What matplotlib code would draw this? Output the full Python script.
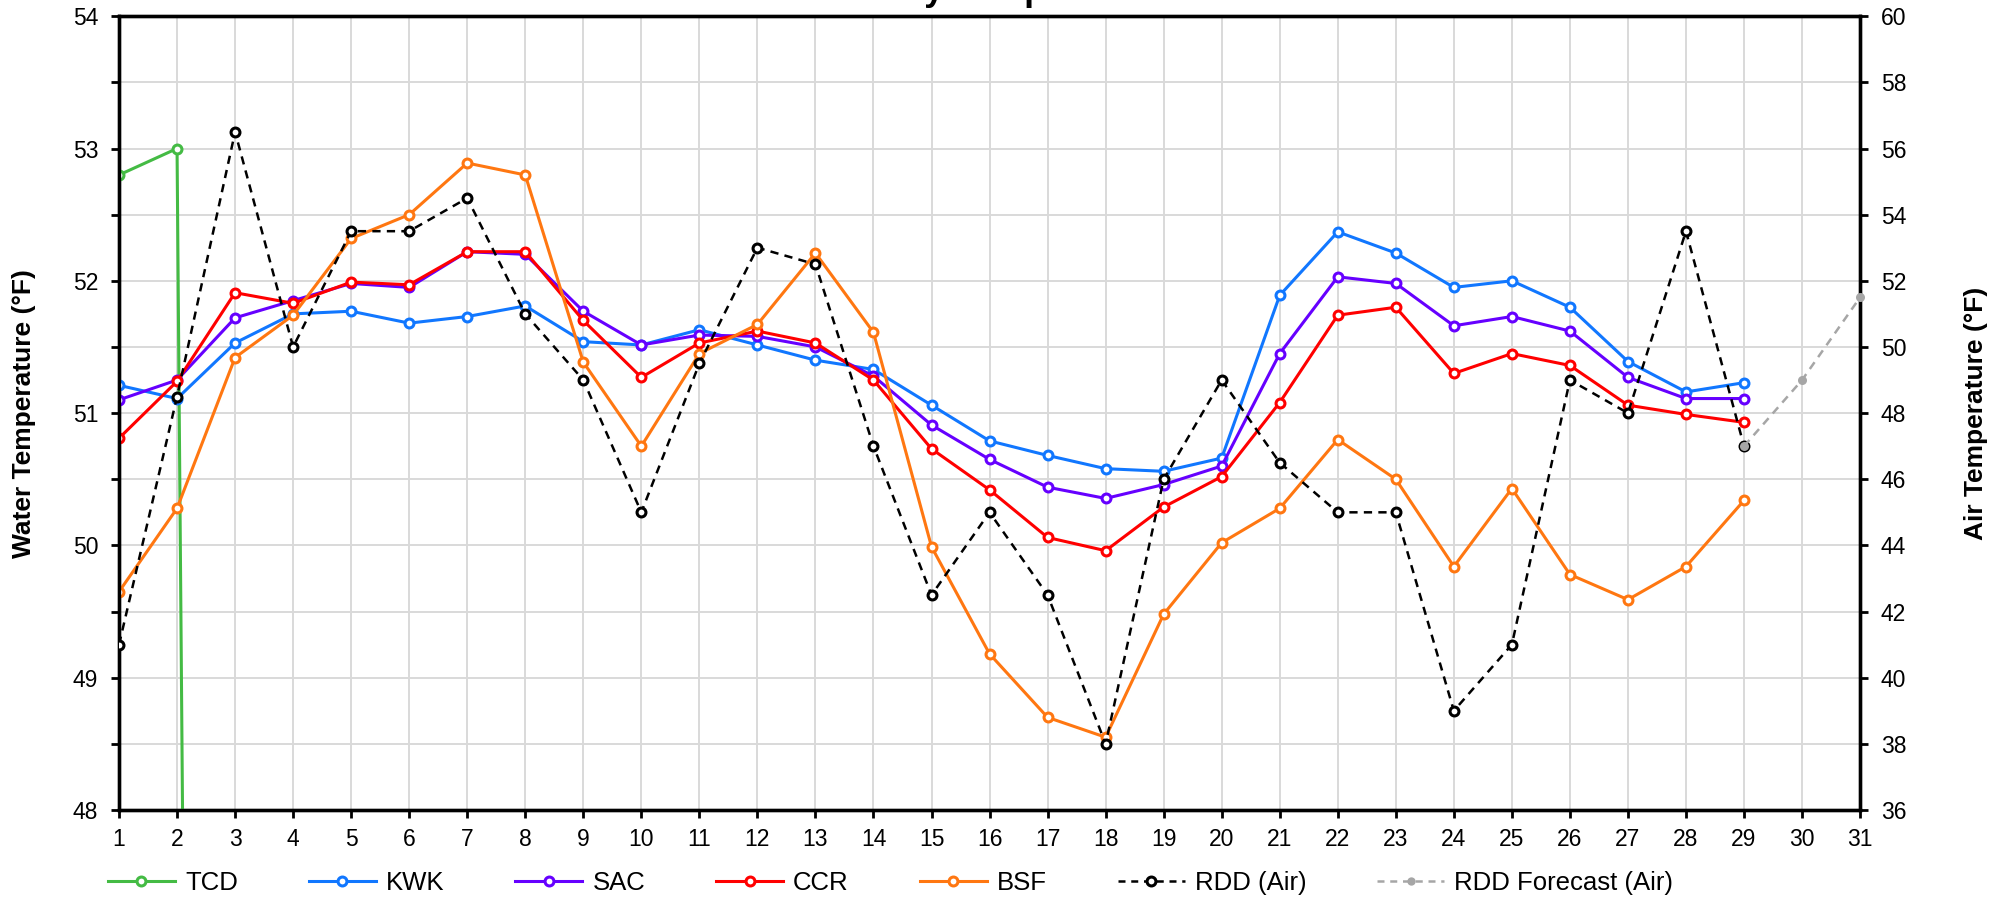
import matplotlib
matplotlib.use("Agg")
import matplotlib.pyplot as plt
from matplotlib.lines import Line2D
from matplotlib.ticker import MultipleLocator

plt.rcParams['font.family'] = ['Liberation Sans', 'DejaVu Sans']

# ---------------- data ----------------
days = list(range(1, 30))
tcd_days = [1, 2, 3]
tcd = [52.8, 53.0, 0.0]
kwk = [51.21, 51.11, 51.53, 51.75, 51.77, 51.68, 51.73, 51.81, 51.54, 51.515,
       51.63, 51.515, 51.40, 51.33, 51.06, 50.79, 50.68, 50.58, 50.56, 50.66,
       51.89, 52.37, 52.21, 51.95, 52.00, 51.80, 51.39, 51.16, 51.23]
sac = [51.10, 51.25, 51.72, 51.85, 51.98, 51.95, 52.22, 52.20, 51.77, 51.515,
       51.59, 51.58, 51.50, 51.28, 50.91, 50.65, 50.44, 50.355, 50.46, 50.60,
       51.45, 52.03, 51.98, 51.66, 51.73, 51.62, 51.27, 51.11, 51.11]
ccr = [50.81, 51.24, 51.91, 51.83, 51.99, 51.97, 52.22, 52.22, 51.70, 51.27,
       51.53, 51.62, 51.53, 51.25, 50.73, 50.42, 50.06, 49.96, 50.29, 50.52,
       51.08, 51.74, 51.80, 51.30, 51.45, 51.36, 51.06, 50.99, 50.93]
bsf = [49.65, 50.28, 51.42, 51.74, 52.32, 52.50, 52.89, 52.80, 51.385, 50.75,
       51.45, 51.67, 52.21, 51.61, 49.99, 49.18, 48.70, 48.55, 49.48, 50.02,
       50.28, 50.80, 50.50, 49.84, 50.43, 49.78, 49.59, 49.84, 50.34]
rdd_air = [41.0, 48.5, 56.5, 50.0, 53.5, 53.5, 54.5, 51.0, 49.0, 45.0,
           49.5, 53.0, 52.5, 47.0, 42.5, 45.0, 42.5, 38.0, 46.0, 49.0,
           46.5, 45.0, 45.0, 39.0, 41.0, 49.0, 48.0, 53.5, 47.0]
fc_days = [29, 30, 31]
fc_air = [47.0, 49.0, 51.5]
x_ticks = list(range(1, 32))
left_ticks = [48, 49, 50, 51, 52, 53, 54]
right_ticks = [36, 38, 40, 42, 44, 46, 48, 50, 52, 54, 56, 58, 60]

title = "Daily Temperatures"
labels = ["TCD", "KWK", "SAC", "CCR", "BSF", "RDD (Air)", "RDD Forecast (Air)"]
colors = ["#44BB44", "#1177FF", "#6600FF", "#FF0000", "#FF7711", "#000000", "#A6A6A6"]

# ---------------- figure ----------------
fig = plt.figure(figsize=(20.07, 9.0), dpi=100)
ax = fig.add_axes([0.0593, 0.10, 0.8675, 0.882])
ax2 = ax.twinx()

FS = 16.5
LW = 2.2
MS = 6.4
MEW = 2.2
DLW = 1.8

ax.set_xlim(1, 31)
ax.set_ylim(48, 54)
ax2.set_ylim(36, 60)

ax.set_xticks(x_ticks)
ax.set_yticks(left_ticks)
ax.yaxis.set_minor_locator(MultipleLocator(0.5))
ax2.set_yticks(right_ticks)

ax.grid(True, which='both', color='#D9D9D9', linewidth=1.4)
ax.set_axisbelow(True)

for a in (ax, ax2):
    for s in a.spines.values():
        s.set_linewidth(2.4)
        s.set_color('black')
ax.tick_params(axis='x', which='both', direction='out', length=6, width=2,
               labelsize=FS, pad=7)
ax.tick_params(axis='y', which='both', direction='out', length=6, width=2,
               labelsize=FS, pad=9)
ax2.tick_params(axis='y', direction='out', length=6, width=2, labelsize=FS, pad=9)

def mline(a, x, y, c, z, **kw):
    a.plot(x, y, color=c, lw=LW, marker='o', ms=MS, mew=MEW, mfc='white',
           mec=c, zorder=z, **kw)

mline(ax, tcd_days, tcd, colors[0], 3)
mline(ax, days, kwk, colors[1], 4)
mline(ax, days, sac, colors[2], 5)
mline(ax, days, ccr, colors[3], 6)
mline(ax, days, bsf, colors[4], 7)

ax2.plot(days, rdd_air, color='black', lw=DLW, dashes=(3.3, 2.5), marker='o',
         ms=MS, mew=MEW, mfc='white', mec='black', zorder=3)
ax2.plot(fc_days, fc_air, color=colors[6], lw=DLW, dashes=(3.3, 2.5), marker='o',
         ms=6.5, mew=0, mfc=colors[6], zorder=4, clip_on=False)

ax.set_ylabel("Water Temperature (°F)", fontsize=19, fontweight='bold', va='center')
ax2.set_ylabel("Air Temperature (°F)", fontsize=19, fontweight='bold',
               rotation=90, va='center')
ax.yaxis.set_label_coords(-0.0545, 0.5)
ax2.yaxis.set_label_coords(1.0666, 0.5)

# title (mostly outside the top of the canvas, as in the reference)
fig.text(0.428, 1.0005, title, fontsize=25.6, fontweight='bold', ha='left', va='baseline')

# legend
handles = []
for i, c in enumerate(colors):
    if i < 5:
        h = Line2D([], [], color=c, lw=LW, marker='o', ms=MS, mew=MEW, mfc='white', mec=c)
    elif i == 5:
        h = Line2D([], [], color=c, lw=DLW, dashes=(2.8, 2.3), marker='o', ms=MS, mew=MEW,
                   mfc='white', mec=c)
    else:
        h = Line2D([], [], color=c, lw=DLW, dashes=(2.8, 2.3), marker='o', ms=6, mew=0, mfc=c)
    handles.append(h)

fig.legend(handles, labels, loc='center left', bbox_to_anchor=(108 / 2007, 0.019),
           ncol=7, frameon=False, fontsize=18.5, handlelength=2.6, handletextpad=0.4,
           columnspacing=2.76, borderpad=0, borderaxespad=0)

fig.savefig("out.png", dpi=100)
